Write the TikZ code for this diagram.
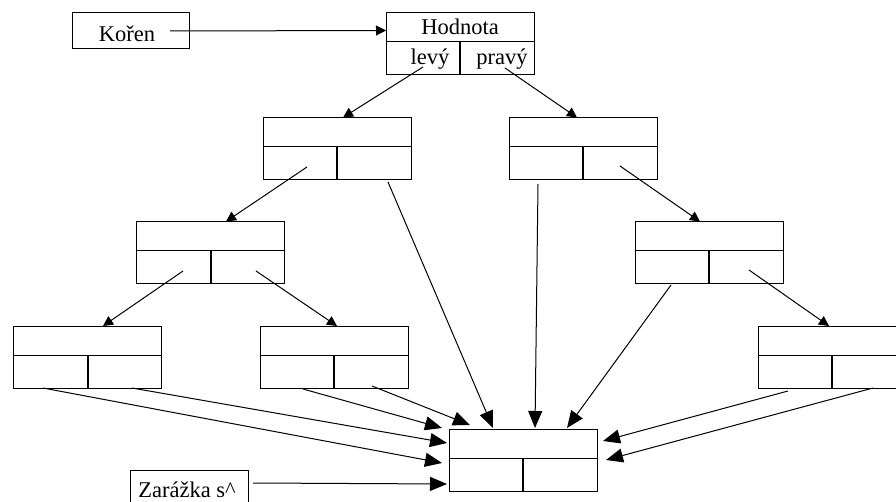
\documentclass[tikz,border=0pt]{standalone}
\usepackage{fontspec}
\setmainfont{Liberation Serif}
\usetikzlibrary{calc,arrows.meta}
\begin{document}
\begin{tikzpicture}[x=1pt,y=-1pt,
  every node/.style={inner sep=0pt, outer sep=0pt},
  % a record: value row on top, left and right pointer cells below
  record/.style={draw, line width=1pt, minimum width=148pt, minimum height=62pt,
    path picture={
      \draw[line width=1pt] ([yshift=-29pt]path picture bounding box.north west) -- ([yshift=-29pt]path picture bounding box.north east);
      \draw[line width=2pt] ([yshift=-29pt]path picture bounding box.north) -- (path picture bounding box.south);
    }},
  plainbox/.style={draw, line width=1pt},
  lbl/.style={anchor=base, font=\fontsize{22.5}{26}\selectfont},
  ptr/.style={line width=1pt, -{Triangle[length=10pt,width=10pt]}},
  bigptr/.style={line width=1pt, -{Triangle[length=17pt,width=14pt]}}]
\useasboundingbox (0,0) rectangle (896,502);

% boxes
\node[plainbox, minimum width=117pt, minimum height=36pt] (koren) at (130.5,31) {};
\node[record] (root) at (460,43.5) {};
\node[record] (l2a) at (337,148.5) {};
\node[record] (l2b) at (583,148.5) {};
\node[record] (l3a) at (210.5,252.5) {};
\node[record] (l3b) at (709,252.5) {};
\node[record] (l4a) at (87.5,357) {};
\node[record] (l4b) at (334,357) {};
\node[record] (l4c) at (832,357) {};
\node[record] (sent) at (523,460) {};
\node[plainbox, minimum width=118pt, minimum height=36pt] (zar) at (189,488) {};

% labels
\node[lbl] (tkoren) at ($(koren.center)+(-3.5,11)$) {Kořen};
\node[lbl] (thod) at ($(root.north)+(0,22.5)$) {Hodnota};
\node[lbl] (tlevy) at ($(root.north)+(-30,52)$) {levý};
\node[lbl] (tpravy) at ($(root.north)+(42,52)$) {pravý};
\node[lbl] (tzar) at ($(zar.center)+(-2,9)$) {Zarážka s\char`\^};

% pointers
\draw[ptr] ($(koren.center)+(39.5,0)$) -- ($(root.north west)+(0,18)$);
\draw[ptr] ($(root.center)+(-37,23.5)$) -- ($(l2a.north)+(6,0)$);
\draw[ptr] ($(root.center)+(45,24.5)$) -- ($(l2b.north)+(-6,0)$);
\draw[ptr] ($(l2a.center)+(-30,18.5)$) -- ($(l3a.north)+(15.5,0)$);
\draw[bigptr] ($(l2a.center)+(51,33.5)$) -- ($(sent.north)+(-30,-1)$);
\draw[bigptr] ($(l2b.center)+(-45,35.5)$) -- ($(sent.north)+(12,-1)$);
\draw[ptr] ($(l2b.center)+(37,17.5)$) -- ($(l3b.north)+(-9,0)$);
\draw[ptr] ($(l3a.center)+(-27.5,18.5)$) -- ($(l4a.north)+(15.5,0)$);
\draw[ptr] ($(l3a.center)+(45.5,18.5)$) -- ($(l4b.north)+(3,0)$);
\draw[bigptr] ($(l3b.center)+(-38,32.5)$) -- ($(sent.north)+(44,-1)$);
\draw[ptr] ($(l3b.center)+(40,17.5)$) -- ($(l4c.north)+(-3,0)$);
\draw[bigptr] ($(l4a.center)+(-44.5,31)$) -- ($(sent.west)+(-7,3)$);
\draw[bigptr] ($(l4a.center)+(44.5,31)$) -- ($(sent.west)+(-2,-17)$);
\draw[bigptr] ($(l4b.center)+(-31,32)$) -- ($(sent.north west)+(-7,-1)$);
\draw[bigptr] ($(l4b.center)+(38,29)$) -- ($(sent.north west)+(21,-4)$);
\draw[bigptr] ($(l4c.center)+(-44,34)$) -- ($(sent.east)+(6,-19)$);
\draw[bigptr] ($(l4c.center)+(41,31)$) -- ($(sent.east)+(9,0)$);
\draw[bigptr] ($(zar.center)+(64,-5)$) -- ($(sent.west)+(-2,24)$);
\end{tikzpicture}
\end{document}
